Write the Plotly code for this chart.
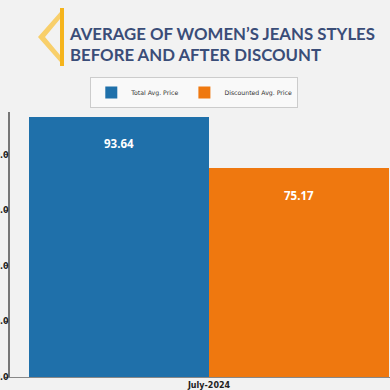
import plotly.graph_objects as go

categories = ["July-2024"]
series_names = ["Total Avg. Price", "Discounted Avg. Price"]
total_avg = [93.64]
discounted_avg = [75.17]
colors = ["#1f70aa", "#ef780f"]
y_ticks = [0, 20, 40, 60, 80]

W, H = 390, 390

fig = go.Figure()
for name, vals, col in zip(series_names, [total_avg, discounted_avg], colors):
    fig.add_trace(go.Bar(x=categories, y=vals, name=name, marker=dict(color=col, line=dict(width=0)),
                         hoverinfo="skip"))

# value labels
offsets = [-0.25, 0.25]
for vals, off in zip([total_avg, discounted_avg], offsets):
    for i, v in enumerate(vals):
        fig.add_annotation(x=i + off, y=v, xref="x", yref="y", text=f"<b>{v:.2f}</b>",
                           showarrow=False, yshift=-27, font=dict(color="white", size=11.5, family="Open Sans"))

# title decoration (pixel offsets relative to plot top-left: fig x 10, fig y 112)
deco = [
    ("M 50 100 L 28 75 L 50 50 L 50 57 L 35 75 L 50 93 Z", "#f8cf6a"),
    ("M 50 104 L 54 104 L 54 46 L 50 46 Z", "#f5b41c"),
]
fig.update_layout(shapes=[
    dict(type="path", xref="paper", yref="paper", xsizemode="pixel", ysizemode="pixel",
         xanchor=0, yanchor=1, path=p, fillcolor=c, line=dict(width=0))
    for p, c in deco
])

fig.update_layout(
    width=W, height=H,
    margin=dict(l=10, r=0, t=112, b=13),
    paper_bgcolor="#f2f2f2", plot_bgcolor="#f2f2f2",
    barmode="group", bargap=0, bargroupgap=0,
    showlegend=True,
    legend=dict(orientation="h", x=0.485, xanchor="center", y=1.074, yanchor="middle",
                bgcolor="rgba(250,250,250,0.9)", bordercolor="#cccccc", borderwidth=1,
                font=dict(size=6.2, family="DejaVu Sans", color="#333"),
                itemwidth=30, tracegroupgap=0),
    xaxis=dict(type="category", range=[-0.5528, 0.5028], showline=True, linecolor="#888",
               linewidth=1, ticks="", showgrid=False, automargin=False,
               tickfont=dict(size=8, family="DejaVu Sans", color="#222", weight="bold")),
    yaxis=dict(range=[0, 95.4], tickvals=y_ticks, tickformat=".1f", showline=True,
               linecolor="#777", linewidth=1.5, ticks="outside", ticklen=3, tickcolor="#555",
               ticklabelstandoff=-5,
               showgrid=False, zeroline=False, automargin=False,
               tickfont=dict(size=8, family="DejaVu Sans", color="#222", weight="bold")),
    font=dict(family="Open Sans"),
    title=dict(text="<b>AVERAGE OF WOMEN’S JEANS STYLES<br>BEFORE AND AFTER DISCOUNT</b>",
               x=70/W, xanchor="left", xref="container", y=1-39.5/H, yanchor="middle", yref="container",
               font=dict(size=16.8, color="#3a4d78", family="Lato")),
)
fig.write_html("out.html", config={"displayModeBar": False},
               post_script="document.body.style.margin='0';document.body.style.padding='0';")
